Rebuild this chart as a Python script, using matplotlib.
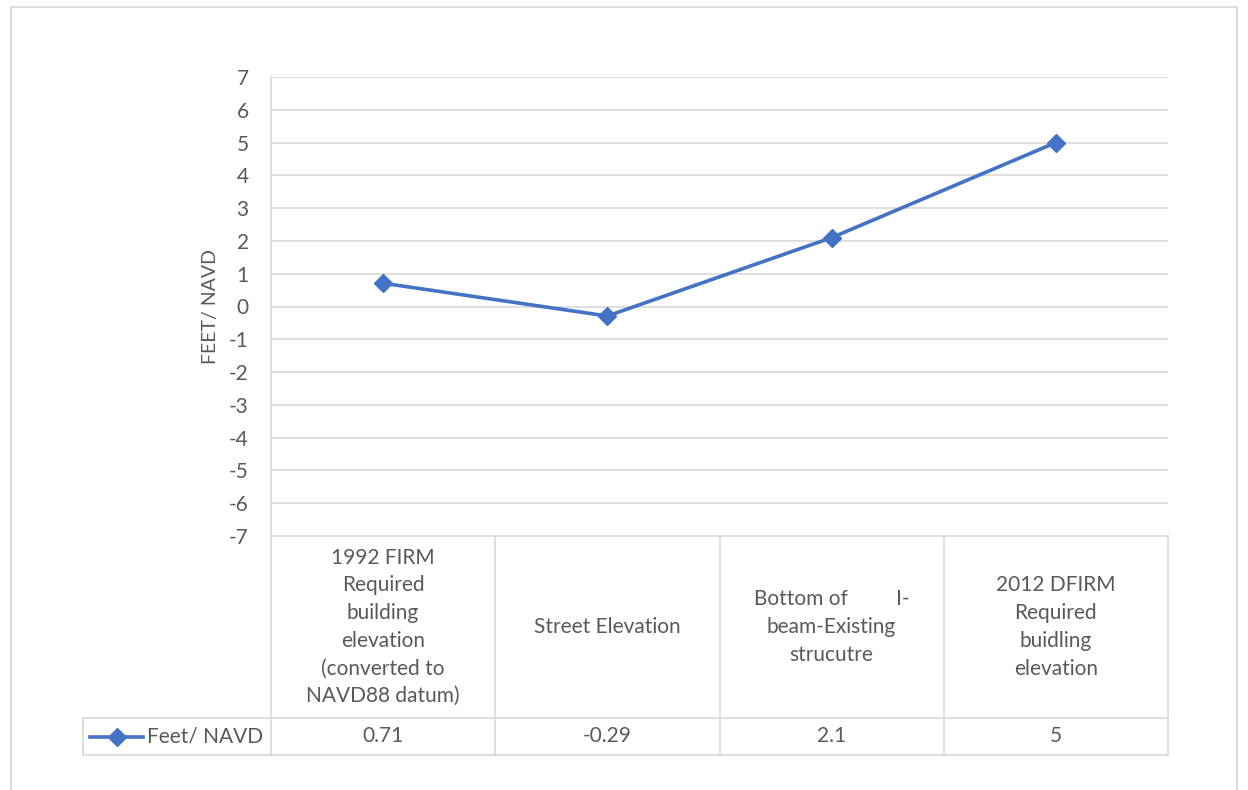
import matplotlib.pyplot as plt
from matplotlib.lines import Line2D
from matplotlib.patches import Rectangle

plt.rcParams['font.family'] = ['Lato', 'DejaVu Sans']

categories = [
    "1992 FIRM\nRequired\nbuilding\nelevation\n(converted to\nNAVD88 datum)",
    "Street Elevation",
    "Bottom of         I-\nbeam-Existing\nstrucutre",
    "2012 DFIRM\nRequired\nbuidling\nelevation",
]
values = [0.71, -0.29, 2.1, 5]
value_labels = ["0.71", "-0.29", "2.1", "5"]
series_name = "Feet/ NAVD"
y_ticks = list(range(-7, 8))

W, H = 1248, 790
TXT = "#595959"
GRID = "#d9d9d9"
BLUE = "#4472C4"
FS = 15

fig = plt.figure(figsize=(W / 100, H / 100), dpi=100)

def fx(px):
    return px / W

def fy(py):
    return 1 - py / H

# chart frame
fig.add_artist(Rectangle((fx(11), fy(800)), fx(1237) - fx(11), fy(7) - fy(800),
                         transform=fig.transFigure, fill=False, ec=GRID, lw=1.2))

# plot area
left, right, top, bottom = 271, 1168, 77, 536
ax = fig.add_axes([fx(left), fy(bottom), fx(right) - fx(left), fy(top) - fy(bottom)])
n = len(categories)
ax.set_xlim(-0.5, n - 0.5)
ax.set_ylim(-7, 7)
ax.set_yticks(y_ticks)
ax.set_yticklabels([str(t) for t in y_ticks])
ax.set_xticks([])
ax.tick_params(axis='y', length=0, pad=16, labelsize=FS, labelcolor=TXT)
ax.grid(axis='y', color=GRID, lw=1.2)
ax.set_axisbelow(True)
for s in ["top", "right", "bottom"]:
    ax.spines[s].set_visible(False)
ax.spines["left"].set_color(GRID)
ax.spines["left"].set_linewidth(1.2)
ax.set_ylabel("FEET/ NAVD", fontsize=FS - 1, color=TXT, labelpad=7)

ax.plot(range(n), values, color=BLUE, lw=2.6, marker='D', ms=9.5,
        markerfacecolor=BLUE, markeredgecolor=BLUE)

# data table under the plot
tleft, tbottom, rowsplit = 83, 755, 718
cell_w = (right - left) / n
leg_w = (left - tleft) / cell_w
tab = fig.add_axes([fx(tleft), fy(tbottom), fx(right) - fx(tleft), fy(bottom) - fy(tbottom)])
tab.set_xlim(-0.5 - leg_w, n - 0.5)
tab.set_ylim(tbottom - bottom, 0)
tab.axis('off')

row1 = rowsplit - bottom
row2 = tbottom - bottom
lk = dict(color=GRID, lw=1.2, clip_on=False)
tab.plot([-0.5, n - 0.5], [0, 0], **lk)
tab.plot([-0.5 - leg_w, n - 0.5], [row1, row1], **lk)
tab.plot([-0.5 - leg_w, n - 0.5], [row2, row2], **lk)
tab.plot([-0.5 - leg_w, -0.5 - leg_w], [row1, row2], **lk)
for i in range(n + 1):
    tab.plot([i - 0.5, i - 0.5], [0, row2], **lk)

for i, (cat, val) in enumerate(zip(categories, value_labels)):
    tab.text(i, row1 / 2, cat, ha='center', va='center', fontsize=FS,
             color=TXT, linespacing=1.48)
    tab.text(i, (row1 + row2) / 2, val, ha='center', va='center',
             fontsize=FS, color=TXT)

# legend key in the table
ky = (row1 + row2) / 2
kx0 = -0.5 - leg_w + 7 / cell_w
kx1 = kx0 + 53 / cell_w
tab.add_line(Line2D([kx0, kx1], [ky, ky], color=BLUE, lw=2.6))
tab.plot([(kx0 + kx1) / 2], [ky], marker='D', ms=9.5, color=BLUE)
tab.text(kx1 + 4 / cell_w, ky, series_name, ha='left', va='center',
         fontsize=FS, color=TXT)

fig.savefig("out.png", dpi=100)
